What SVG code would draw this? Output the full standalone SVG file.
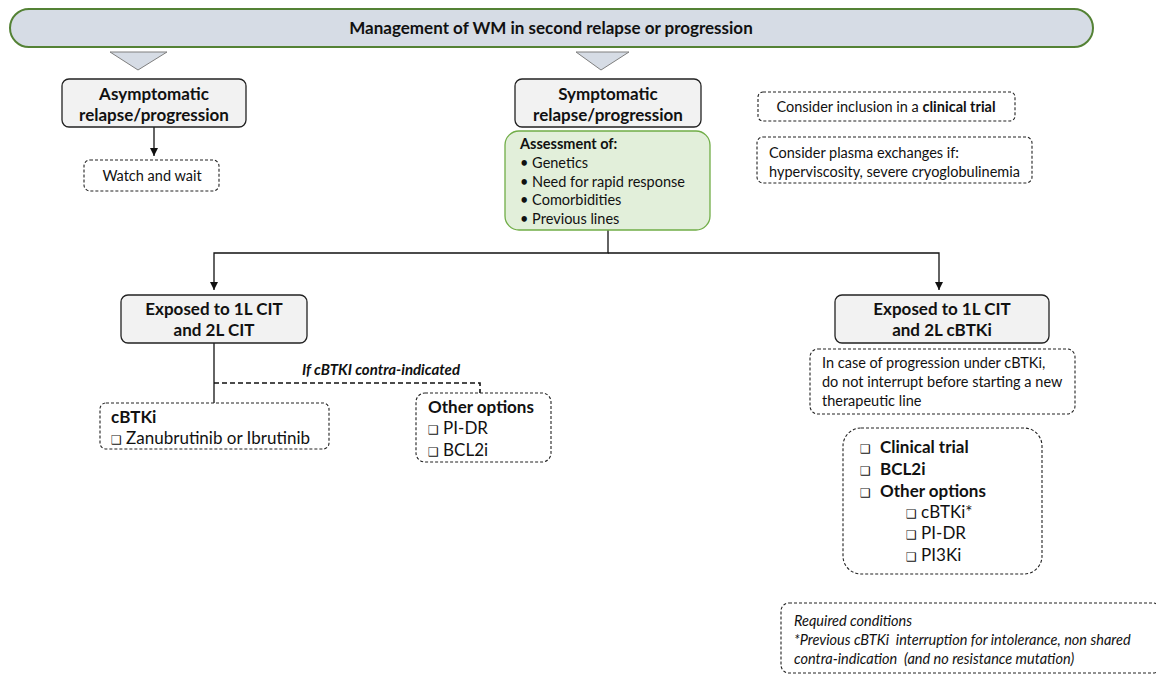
<svg xmlns="http://www.w3.org/2000/svg" width="1156" height="675" viewBox="0 0 1156 675">
<style>
text{font-family:Lato,"Liberation Sans",sans-serif;fill:#111}
.b{font-weight:bold}
.i{font-style:italic}
.t{font-size:17px;font-weight:bold;text-anchor:middle}
.s{font-size:14.5px}
.m{font-size:17px}
.q{font-family:"DejaVu Sans",sans-serif;font-size:12px;font-weight:normal}
.gray{fill:#f2f2f2;stroke:#222;stroke-width:1.3}
.dash{fill:#fff;stroke:#222;stroke-width:1.1;stroke-dasharray:3 2}
.ln{fill:none;stroke:#111;stroke-width:1.3}
</style>
<defs>
<marker id="ah" viewBox="0 0 10 10" refX="10" refY="5" markerWidth="8" markerHeight="8" markerUnits="userSpaceOnUse" orient="auto">
<path d="M0,0 L10,5 L0,10 z" fill="#111"/>
</marker>
</defs>
<g id="header">
<rect x="10" y="9" width="1083" height="38" rx="19" fill="#d6dce5" stroke="#548235" stroke-width="2"/>
<text x="551" y="34" class="b" style="font-size:17px" text-anchor="middle">Management of WM in second relapse or progression</text>
<polygon points="110,52 167,52 138,70" fill="#d6dce5" stroke="#7f7f7f" stroke-width="1"/>
<polygon points="576,52 629,52 601,70" fill="#d6dce5" stroke="#7f7f7f" stroke-width="1"/>
</g>
<g id="connectors">
<line x1="154" y1="127" x2="154" y2="156" class="ln" marker-end="url(#ah)"/>
<polyline points="608,230 608,253 214,253 214,290" class="ln" marker-end="url(#ah)"/>
<polyline points="608,253 939,253 939,290" class="ln" marker-end="url(#ah)"/>
<line x1="214" y1="343" x2="214" y2="403" class="ln"/>
<polyline points="214,383 480,383 480,393" fill="none" stroke="#111" stroke-width="1.6" stroke-dasharray="5 3"/>
<text x="381" y="375" class="b i" style="font-size:15px" text-anchor="middle">If cBTKI contra-indicated</text>
</g>
<g id="asymptomatic">
<rect x="62" y="79" width="184" height="48" rx="7" class="gray"/>
<text x="154" y="100" class="t">Asymptomatic</text>
<text x="154" y="121" class="t">relapse/progression</text>
</g>
<g id="watch">
<rect x="84" y="160" width="135" height="31" rx="6" class="dash"/>
<text x="152" y="181" class="s" text-anchor="middle">Watch and wait</text>
</g>
<g id="symptomatic">
<rect x="515" y="79" width="186" height="48" rx="7" class="gray"/>
<text x="608" y="100" class="t">Symptomatic</text>
<text x="608" y="121" class="t">relapse/progression</text>
</g>
<g id="assessment">
<rect x="505" y="131" width="205" height="99" rx="14" fill="#e2efda" stroke="#70ad47" stroke-width="1.3"/>
<text x="520" y="149" class="s b">Assessment of:</text>
<text x="520" y="168" class="s">• Genetics</text>
<text x="520" y="187" class="s">• Need for rapid response</text>
<text x="520" y="205" class="s">• Comorbidities</text>
<text x="520" y="224" class="s">• Previous lines</text>
</g>
<g id="trial-note">
<rect x="758" y="92" width="257" height="29" rx="5" class="dash"/>
<text x="886" y="112" class="s" text-anchor="middle">Consider inclusion in a <tspan class="b">clinical trial</tspan></text>
</g>
<g id="plasma-note">
<rect x="757" y="137" width="275" height="46" rx="6" class="dash"/>
<text x="769" y="158" class="s">Consider plasma exchanges if:</text>
<text x="769" y="177" class="s">hyperviscosity, severe cryoglobulinemia</text>
</g>
<g id="exposed-cit">
<rect x="121" y="295" width="186" height="48" rx="7" class="gray"/>
<text x="214" y="315" class="t">Exposed to 1L CIT</text>
<text x="214" y="336" class="t">and 2L CIT</text>
</g>
<g id="cbtki">
<rect x="100" y="403" width="229" height="46" rx="6" class="dash"/>
<text x="111" y="423" class="m b">cBTKi</text>
<text x="111" y="444" class="m"><tspan class="q">❑</tspan> Zanubrutinib or Ibrutinib</text>
</g>
<g id="other-left">
<rect x="416" y="393" width="135" height="69" rx="9" class="dash"/>
<text x="428" y="413" class="m b">Other options</text>
<text x="428" y="434" class="m"><tspan class="q">❑</tspan> PI-DR</text>
<text x="428" y="456" class="m"><tspan class="q">❑</tspan> BCL2i</text>
</g>
<g id="exposed-cbtki">
<rect x="835" y="295" width="214" height="48" rx="7" class="gray"/>
<text x="942" y="315" class="t">Exposed to 1L CIT</text>
<text x="942" y="336" class="t">and 2L cBTKi</text>
</g>
<g id="progression-note">
<rect x="810" y="349" width="265" height="65" rx="8" class="dash"/>
<text x="822" y="368" class="s">In case of progression under cBTKi,</text>
<text x="822" y="387" class="s">do not interrupt before starting a new</text>
<text x="822" y="406" class="s">therapeutic line</text>
</g>
<g id="options-right">
<rect x="843" y="428" width="199" height="146" rx="18" class="dash"/>
<text x="860" y="453" class="m"><tspan class="q">❑</tspan><tspan x="880" class="b">Clinical trial</tspan></text>
<text x="860" y="475" class="m"><tspan class="q">❑</tspan><tspan x="880" class="b">BCL2i</tspan></text>
<text x="860" y="497" class="m"><tspan class="q">❑</tspan><tspan x="880" class="b">Other options</tspan></text>
<text x="906" y="518" class="m"><tspan class="q">❑</tspan> cBTKi*</text>
<text x="906" y="539" class="m"><tspan class="q">❑</tspan> PI-DR</text>
<text x="906" y="561" class="m"><tspan class="q">❑</tspan> PI3Ki</text>
</g>
<g id="conditions">
<rect x="781" y="603" width="380" height="70" rx="8" class="dash"/>
<text x="794" y="626" class="s i">Required conditions</text>
<text x="794" y="645" class="s i" xml:space="preserve">*Previous cBTKi  interruption for intolerance, non shared</text>
<text x="794" y="664" class="s i" xml:space="preserve">contra-indication  (and no resistance mutation)</text>
</g>
</svg>
